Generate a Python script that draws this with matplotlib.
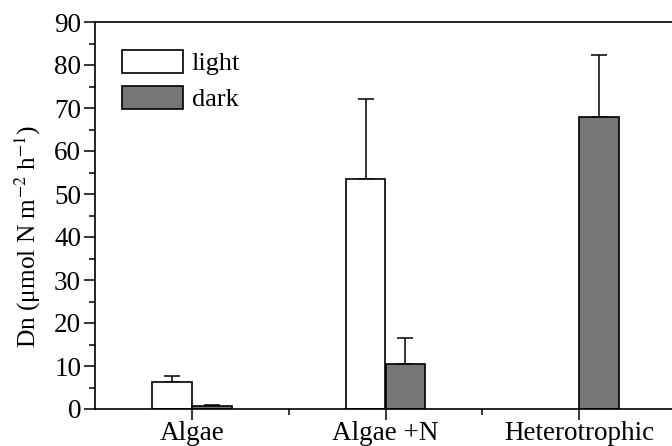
import matplotlib
matplotlib.use("Agg")
import matplotlib.pyplot as plt
import numpy as np

categories = ["Algae", "Algae +N", "Heterotrophic"]
light_vals = [6.3, 53.4, np.nan]
light_err = [1.4, 18.6, np.nan]
dark_vals = [0.6, 10.5, 68.0]
dark_err = [0.4, 5.9, 14.4]
yticks = [0, 10, 20, 30, 40, 50, 60, 70, 80, 90]

plt.rcParams['font.family'] = ['Liberation Serif', 'DejaVu Serif']
plt.rcParams['mathtext.fontset'] = 'stix'

fig = plt.figure(figsize=(6.72, 4.46), dpi=100)
ax = fig.add_axes([95/672, 1-409/446, (676-95)/672, (409-22)/446])

x = np.arange(len(categories))
w = 0.205
ax.bar(x - w/2, light_vals, w, color='white', edgecolor='black', linewidth=1.2,
       label='light', zorder=2)
ax.bar(x + w/2, dark_vals, w, color='#767676', edgecolor='black', linewidth=1.2,
       label='dark', zorder=2)
ax.errorbar(x - w/2, light_vals, yerr=[np.zeros(3), light_err], fmt='none',
            ecolor='black', elinewidth=1.1, capsize=5.5, capthick=1.1, zorder=1)
ax.errorbar(x + w/2, dark_vals, yerr=[np.zeros(3), dark_err], fmt='none',
            ecolor='black', elinewidth=1.1, capsize=5.5, capthick=1.1, zorder=1)

ax.set_xlim(-0.5, 2.5)
ax.set_ylim(0, 90)
ax.set_yticks(yticks)
ax.set_yticks(np.arange(0, 91, 5), minor=True)
ax.set_xticks(x)
ax.set_xticks([0.5, 1.5], minor=True)
ax.set_xticklabels(categories)
ax.tick_params(axis='both', which='major', direction='out', length=8, width=1.1,
               labelsize=19.5)
ax.tick_params(axis='both', which='minor', direction='out', length=4, width=1.1)
ax.tick_params(axis='x', pad=1)
ax.tick_params(axis='y', pad=2)
for s in ['left', 'bottom', 'top']:
    ax.spines[s].set_linewidth(1.2)
ax.spines['right'].set_visible(False)

ax.set_ylabel(r'Dn ($\mathregular{\mu}$mol N m$^{-2}$ h$^{-1}$)', fontsize=18.3)
ax.yaxis.set_label_coords(-0.09, 0.445)

leg = ax.legend(loc='upper left', bbox_to_anchor=(0.028, 0.955), frameon=False,
                fontsize=19, handlelength=2.3, handleheight=0.95,
                handletextpad=0.35, labelspacing=0.4, borderaxespad=0.0)

fig.savefig('out.png', dpi=100)
